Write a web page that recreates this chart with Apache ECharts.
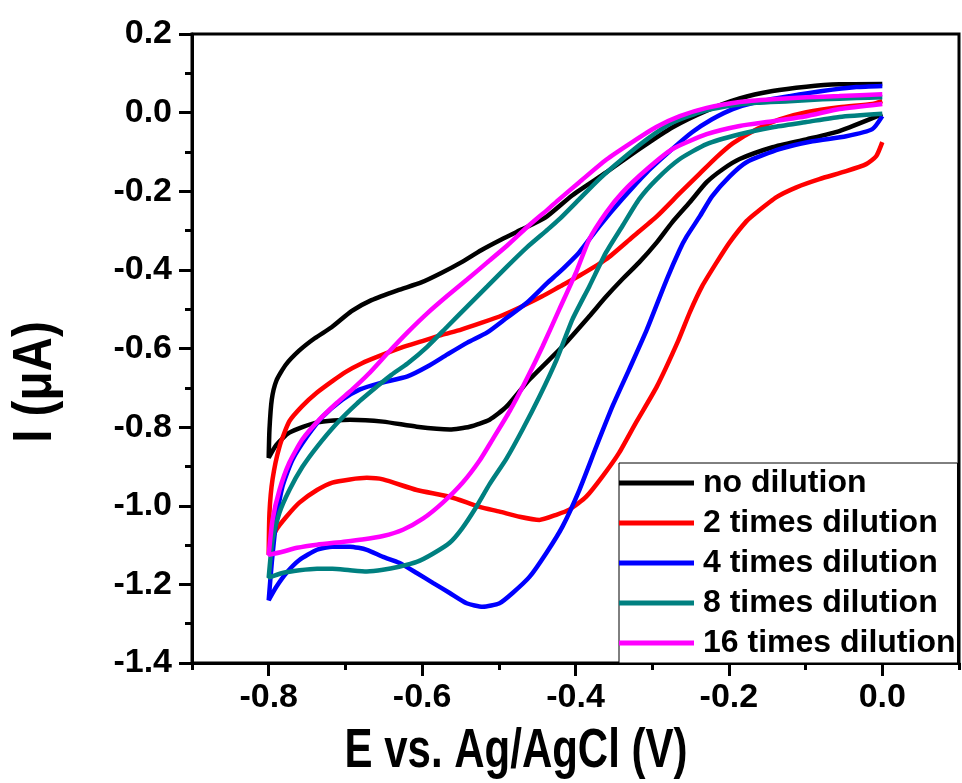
<!DOCTYPE html>
<html>
<head>
<meta charset="utf-8">
<script src="https://cdn.jsdelivr.net/npm/echarts@6/dist/echarts.min.js"></script>
<style>
  html, body { margin: 0; padding: 0; background: #fff; }
  #chart { width: 962px; height: 783px; }
</style>
</head>
<body>
<div id="chart"></div>
<script>
// series names (legend order)
var seriesNames = ['no dilution', '2 times dilution', '4 times dilution', '8 times dilution', '16 times dilution'];
var seriesColors = ['#000000', '#ff0000', '#0000ff', '#008080', '#ff00ff'];

// tick labels
var xTicks = [-0.8, -0.6, -0.4, -0.2, 0.0];

// CV loops, [E (V), I (uA)] in sweep order: 0 -> -0.8 -> 0
var noDilution = [
  [0,-0.004],[-0.056,-0.047],[-0.099,-0.068],[-0.143,-0.088],[-0.186,-0.118],[-0.208,-0.144],[-0.229,-0.177],
  [-0.251,-0.228],[-0.274,-0.279],[-0.294,-0.330],[-0.317,-0.381],[-0.339,-0.424],[-0.360,-0.468],[-0.382,-0.518],
  [-0.417,-0.595],[-0.460,-0.679],[-0.490,-0.748],[-0.512,-0.781],[-0.538,-0.799],[-0.564,-0.806],[-0.607,-0.799],
  [-0.651,-0.786],[-0.694,-0.781],[-0.737,-0.788],[-0.773,-0.814],[-0.790,-0.845],[-0.800,-0.878],
  [-0.799,-0.806],[-0.796,-0.730],[-0.790,-0.682],[-0.778,-0.642],[-0.760,-0.605],[-0.740,-0.574],[-0.718,-0.546],
  [-0.692,-0.505],[-0.666,-0.477],[-0.632,-0.452],[-0.601,-0.432],[-0.575,-0.408],[-0.549,-0.381],[-0.523,-0.350],
  [-0.496,-0.322],[-0.470,-0.297],[-0.440,-0.268],[-0.404,-0.210],[-0.360,-0.152],[-0.317,-0.093],[-0.274,-0.038],
  [-0.229,0.005],[-0.186,0.036],[-0.143,0.055],[-0.099,0.066],[-0.056,0.072],[0,0.073]
];
var dilution2 = [
  [0,-0.075],[-0.008,-0.111],[-0.021,-0.131],[-0.047,-0.149],[-0.082,-0.169],[-0.112,-0.190],[-0.138,-0.215],
  [-0.164,-0.254],[-0.177,-0.276],[-0.199,-0.330],[-0.216,-0.381],[-0.235,-0.442],[-0.251,-0.508],[-0.266,-0.580],
  [-0.294,-0.697],[-0.321,-0.788],[-0.343,-0.865],[-0.365,-0.926],[-0.386,-0.977],[-0.408,-1.010],[-0.425,-1.023],
  [-0.447,-1.036],[-0.473,-1.028],[-0.499,-1.015],[-0.525,-1.003],[-0.564,-0.977],[-0.607,-0.960],[-0.651,-0.933],
  [-0.672,-0.929],[-0.694,-0.933],[-0.717,-0.941],[-0.737,-0.960],[-0.760,-0.992],[-0.777,-1.028],[-0.790,-1.061],
  [-0.799,-1.104],[-0.800,-1.125],
  [-0.799,-1.018],[-0.795,-0.933],[-0.786,-0.850],[-0.773,-0.785],[-0.756,-0.746],[-0.737,-0.712],[-0.717,-0.683],
  [-0.700,-0.660],[-0.679,-0.638],[-0.653,-0.617],[-0.627,-0.598],[-0.601,-0.582],[-0.575,-0.566],[-0.549,-0.552],
  [-0.523,-0.535],[-0.496,-0.516],[-0.470,-0.493],[-0.444,-0.468],[-0.421,-0.443],[-0.395,-0.415],[-0.360,-0.373],
  [-0.326,-0.317],[-0.294,-0.264],[-0.264,-0.205],[-0.238,-0.155],[-0.216,-0.113],[-0.195,-0.078],[-0.164,-0.042],
  [-0.134,-0.017],[-0.099,0.001],[-0.056,0.014],[-0.013,0.022],[0,0.029]
];
var dilution4 = [
  [0,-0.009],[-0.013,-0.042],[-0.047,-0.060],[-0.091,-0.073],[-0.134,-0.093],[-0.177,-0.126],[-0.199,-0.162],
  [-0.222,-0.213],[-0.238,-0.264],[-0.255,-0.315],[-0.264,-0.348],[-0.281,-0.424],[-0.307,-0.552],[-0.330,-0.653],
  [-0.352,-0.748],[-0.373,-0.850],[-0.395,-0.960],[-0.417,-1.053],[-0.438,-1.120],[-0.460,-1.181],[-0.482,-1.222],
  [-0.499,-1.248],[-0.521,-1.257],[-0.542,-1.248],[-0.564,-1.222],[-0.586,-1.196],[-0.607,-1.171],[-0.630,-1.145],
  [-0.651,-1.130],[-0.672,-1.112],[-0.694,-1.104],[-0.717,-1.104],[-0.737,-1.112],[-0.760,-1.138],[-0.777,-1.171],
  [-0.790,-1.206],[-0.800,-1.240],
  [-0.796,-1.145],[-0.790,-1.036],[-0.782,-0.951],[-0.769,-0.883],[-0.750,-0.824],[-0.730,-0.774],[-0.704,-0.730],
  [-0.681,-0.704],[-0.655,-0.688],[-0.619,-0.671],[-0.593,-0.646],[-0.567,-0.615],[-0.541,-0.585],[-0.515,-0.559],
  [-0.489,-0.521],[-0.463,-0.483],[-0.436,-0.432],[-0.421,-0.406],[-0.395,-0.355],[-0.369,-0.289],[-0.339,-0.220],
  [-0.307,-0.152],[-0.274,-0.093],[-0.248,-0.050],[-0.222,-0.017],[-0.195,0.009],[-0.164,0.027],[-0.121,0.042],
  [-0.078,0.055],[-0.034,0.065],[0,0.068]
];
var dilution8 = [
  [0,-0.003],[-0.056,-0.011],[-0.099,-0.024],[-0.143,-0.037],[-0.186,-0.055],[-0.229,-0.080],[-0.264,-0.118],
  [-0.294,-0.169],[-0.317,-0.220],[-0.339,-0.289],[-0.360,-0.355],[-0.382,-0.442],[-0.404,-0.526],[-0.425,-0.630],
  [-0.447,-0.722],[-0.469,-0.806],[-0.490,-0.880],[-0.512,-0.945],[-0.530,-1.005],[-0.548,-1.058],[-0.564,-1.094],
  [-0.586,-1.122],[-0.607,-1.143],[-0.630,-1.155],[-0.651,-1.163],[-0.672,-1.167],[-0.694,-1.164],[-0.717,-1.160],
  [-0.737,-1.160],[-0.760,-1.164],[-0.782,-1.171],[-0.800,-1.183],
  [-0.795,-1.087],[-0.786,-1.018],[-0.773,-0.960],[-0.756,-0.901],[-0.737,-0.850],[-0.711,-0.790],[-0.685,-0.740],
  [-0.659,-0.697],[-0.640,-0.667],[-0.619,-0.638],[-0.593,-0.595],[-0.567,-0.544],[-0.541,-0.493],[-0.515,-0.442],
  [-0.489,-0.391],[-0.463,-0.342],[-0.436,-0.297],[-0.421,-0.271],[-0.395,-0.220],[-0.369,-0.169],[-0.339,-0.118],
  [-0.307,-0.068],[-0.274,-0.026],[-0.238,0.001],[-0.203,0.016],[-0.164,0.025],[-0.121,0.029],[-0.078,0.034],
  [-0.034,0.037],[0,0.039]
];
var dilution16 = [
  [0,0.022],[-0.056,0.009],[-0.099,-0.009],[-0.143,-0.022],[-0.186,-0.034],[-0.229,-0.055],[-0.274,-0.093],
  [-0.307,-0.144],[-0.339,-0.203],[-0.360,-0.254],[-0.382,-0.322],[-0.399,-0.405],[-0.421,-0.500],[-0.443,-0.595],
  [-0.464,-0.679],[-0.486,-0.760],[-0.508,-0.831],[-0.525,-0.885],[-0.547,-0.941],[-0.573,-0.992],[-0.599,-1.033],
  [-0.625,-1.061],[-0.651,-1.077],[-0.678,-1.086],[-0.704,-1.092],[-0.737,-1.099],[-0.763,-1.107],[-0.782,-1.117],
  [-0.800,-1.125],
  [-0.795,-1.036],[-0.786,-0.960],[-0.773,-0.890],[-0.756,-0.831],[-0.734,-0.781],[-0.711,-0.738],[-0.691,-0.704],
  [-0.670,-0.665],[-0.645,-0.612],[-0.619,-0.559],[-0.593,-0.510],[-0.567,-0.466],[-0.541,-0.424],[-0.515,-0.381],
  [-0.489,-0.338],[-0.463,-0.291],[-0.436,-0.246],[-0.421,-0.220],[-0.395,-0.177],[-0.360,-0.120],[-0.326,-0.075],
  [-0.294,-0.036],[-0.264,-0.009],[-0.229,0.012],[-0.186,0.027],[-0.143,0.034],[-0.099,0.039],[-0.056,0.042],
  [0,0.047]
];
var allData = [noDilution, dilution2, dilution4, dilution8, dilution16];

var chart = echarts.init(document.getElementById('chart'));
var tickFont = { fontFamily: 'Liberation Sans', fontWeight: 'bold', fontSize: 34, color: '#000' };

var series = [];
for (var i = 0; i < allData.length; i++) {
  series.push({
    name: seriesNames[i],
    type: 'line',
    xAxisIndex: 0,
    data: allData[i],
    showSymbol: false,
    symbol: 'none',
    smooth: 0.2,
    color: seriesColors[i],
    lineStyle: { width: 4.5, color: seriesColors[i] }
  });
}

var option = {
  animation: false,
  backgroundColor: '#fff',
  grid: {
    left: 192, right: 3, top: 34, bottom: 120,
    show: true, borderColor: '#000', borderWidth: 3
  },
  xAxis: [
    {
      // minor ticks every 0.1
      type: 'value', min: -0.9, max: 0.1, interval: 0.1, position: 'bottom',
      axisLine: { show: true, onZero: false, lineStyle: { color: '#000', width: 3 } },
      axisTick: { show: true, length: 7, lineStyle: { color: '#000', width: 3 } },
      axisLabel: { show: false },
      splitLine: { show: false }
    },
    {
      // major ticks and labels
      type: 'value', min: -0.9, max: 0.1, position: 'bottom',
      axisLine: { show: false, onZero: false },
      axisTick: { show: true, length: 13, customValues: xTicks, lineStyle: { color: '#000', width: 3 } },
      axisLabel: Object.assign({ customValues: xTicks, margin: 18,
        formatter: function (v) { return v.toFixed(1); } }, tickFont),
      splitLine: { show: false }
    }
  ],
  yAxis: {
    type: 'value', min: -1.4, max: 0.2, interval: 0.2,
    axisLine: { show: true, onZero: false, lineStyle: { color: '#000', width: 3 } },
    axisTick: { show: true, length: 13, lineStyle: { color: '#000', width: 3 } },
    minorTick: { show: true, splitNumber: 2, length: 7, lineStyle: { color: '#000', width: 3 } },
    axisLabel: Object.assign({ margin: 20, formatter: function (v) { return v.toFixed(1); } }, tickFont),
    splitLine: { show: false },
    minorSplitLine: { show: false }
  },
  legend: {
    orient: 'vertical', left: 619, top: 463,
    itemWidth: 75, itemHeight: 5, itemGap: 8, icon: 'rect',
    padding: [4, 2, 4, 0],
    borderColor: '#000', borderWidth: 1, backgroundColor: '#fff',
    textStyle: { fontFamily: 'Liberation Sans', fontWeight: 'bold', fontSize: 32, color: '#000', padding: [0, 0, 0, 4] },
    data: seriesNames
  },
  graphic: [
    {
      type: 'text', x: 516, y: 752, scaleX: 0.75,
      style: { text: 'E vs. Ag/AgCl (V)', x: 0, y: 0, textAlign: 'center', textVerticalAlign: 'middle',
        font: 'bold 56px "Liberation Sans"', fill: '#000' }
    },
    {
      type: 'text', x: 36, y: 382, rotation: Math.PI / 2, scaleX: 0.85,
      style: { text: 'I (\u03bcA)', x: 0, y: 0, textAlign: 'center', textVerticalAlign: 'middle',
        font: 'bold 56px "Liberation Sans"', fill: '#000' }
    }
  ],
  series: series
};
chart.setOption(option);
</script>
</body>
</html>
